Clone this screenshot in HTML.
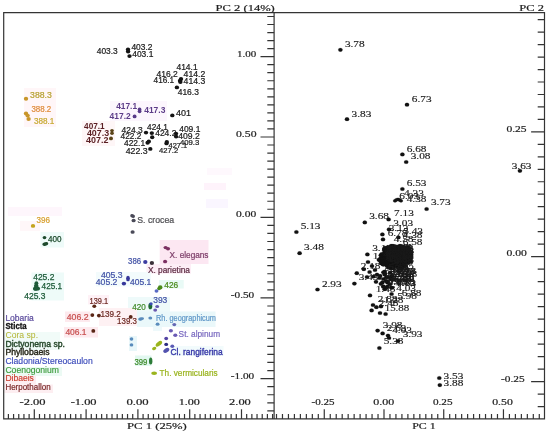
<!DOCTYPE html>
<html lang="en"><head><meta charset="utf-8"><title>PCA score and loading plots</title>
<style>html,body{margin:0;padding:0;background:#fff}svg{display:block;font-family:"Liberation Sans",sans-serif}svg text{white-space:pre}svg text.s{font-family:"Liberation Serif",serif}</style></head><body>
<svg width="550" height="432" viewBox="0 0 550 432">
<rect width="550" height="432" fill="#fff"/>
<g>
<rect x="24" y="88" width="32" height="39" fill="#fff6f8"/>
<rect x="110" y="101" width="57" height="20" fill="#fcf6fd"/>
<rect x="82" y="121" width="33" height="25" fill="#fef6f7"/>
<rect x="8" y="207" width="54" height="9" fill="#fef6fc"/>
<rect x="20" y="221" width="20" height="10" fill="#fff7f9"/>
<rect x="40.5" y="232" width="23.5" height="15.5" fill="#eefbf9"/>
<rect x="31.5" y="272.5" width="32.5" height="28" fill="#eefbf9"/>
<rect x="159.7" y="240" width="48.8" height="24" fill="#fce7f2"/>
<rect x="146.5" y="264" width="44.5" height="9.8" fill="#fdeef6"/>
<rect x="159" y="280" width="24.7" height="8.5" fill="#e9faf6"/>
<rect x="128" y="297" width="42" height="16" fill="#eefafa"/>
<rect x="96" y="272" width="55" height="14.5" fill="#f3fbfc"/>
<rect x="135" y="355.5" width="16.5" height="10.5" fill="#e2f8f0"/>
<rect x="129" y="336" width="8" height="15" fill="#e9f7fa"/>
<rect x="137" y="311.5" width="78.5" height="15.5" fill="#eaf8fa"/>
<rect x="153" y="327" width="9" height="4" fill="#eef9fb"/>
<rect x="170" y="346" width="53.5" height="10" fill="#f2fbfc"/>
<rect x="88" y="295" width="21" height="9.5" fill="#fef1f6"/>
<rect x="65" y="311.5" width="25" height="10.5" fill="#fdeaee"/>
<rect x="99" y="308" width="38" height="18" fill="#fef1f3"/>
<rect x="64" y="327" width="34" height="10.5" fill="#fdeaee"/>
<rect x="4.4" y="332" width="55.6" height="18" fill="#f1fbf8"/>
<rect x="4.4" y="367" width="57.6" height="9" fill="#ecfaf4"/>
<rect x="4.4" y="376" width="31.6" height="8.5" fill="#fdeef1"/>
<rect x="4.4" y="384.5" width="48.6" height="8.5" fill="#fdeef1"/>
<rect x="207" y="168" width="25" height="7" fill="#fef8fd"/>
<rect x="204" y="183" width="22" height="7" fill="#fef3fb"/>
<rect x="206" y="199" width="22" height="9" fill="#faf6ff"/>
</g>
<g stroke="#343434" stroke-width="1.2" fill="none" stroke-linecap="butt">
<path d="M3.7 12.1V418.9H544.5V12.6H3.2"/>
<path d="M274.1 12.6V418.9"/>
<path d="M274.1 410.86h-6.8M274.1 402.8h-6.8M274.1 394.73h-6.8M274.1 386.67h-6.8M274.1 378.6h-13.6M274.1 370.54h-6.8M274.1 362.47h-6.8M274.1 354.41h-6.8M274.1 346.34h-6.8M274.1 338.28h-6.8M274.1 330.21h-6.8M274.1 322.15h-6.8M274.1 314.08h-6.8M274.1 306.02h-6.8M274.1 297.95h-13.6M274.1 289.88h-6.8M274.1 281.82h-6.8M274.1 273.75h-6.8M274.1 265.69h-6.8M274.1 257.62h-6.8M274.1 249.56h-6.8M274.1 241.5h-6.8M274.1 233.43h-6.8M274.1 225.37h-6.8M274.1 217.3h-13.6M274.1 209.27h-6.8M274.1 201.24h-6.8M274.1 193.2h-6.8M274.1 185.17h-6.8M274.1 177.14h-6.8M274.1 169.11h-6.8M274.1 161.07h-6.8M274.1 153.04h-6.8M274.1 145.01h-6.8M274.1 136.98h-13.6M274.1 128.94h-6.8M274.1 120.91h-6.8M274.1 112.88h-6.8M274.1 104.84h-6.8M274.1 96.81h-6.8M274.1 88.78h-6.8M274.1 80.75h-6.8M274.1 72.72h-6.8M274.1 64.68h-6.8M274.1 56.65h-13.6M274.1 48.62h-6.8M274.1 40.58h-6.8M274.1 32.55h-6.8M274.1 24.52h-6.8M274.1 16.49h-6.8M8.4 418.9v-5M13.58 418.9v-5M18.76 418.9v-5M23.94 418.9v-5M29.12 418.9v-5M34.3 418.9v-9.6M39.48 418.9v-5M44.66 418.9v-5M49.84 418.9v-5M55.02 418.9v-5M60.2 418.9v-5M65.38 418.9v-5M70.56 418.9v-5M75.74 418.9v-5M80.92 418.9v-5M86.1 418.9v-9.6M91.28 418.9v-5M96.46 418.9v-5M101.64 418.9v-5M106.82 418.9v-5M112 418.9v-5M117.18 418.9v-5M122.36 418.9v-5M127.54 418.9v-5M132.72 418.9v-5M137.9 418.9v-9.6M143.08 418.9v-5M148.26 418.9v-5M153.44 418.9v-5M158.62 418.9v-5M163.8 418.9v-5M168.98 418.9v-5M174.16 418.9v-5M179.34 418.9v-5M184.52 418.9v-5M189.7 418.9v-9.6M194.88 418.9v-5M200.06 418.9v-5M205.24 418.9v-5M210.42 418.9v-5M215.6 418.9v-5M220.78 418.9v-5M225.96 418.9v-5M231.14 418.9v-5M236.32 418.9v-5M241.5 418.9v-9.6M246.68 418.9v-5M251.86 418.9v-5M257.04 418.9v-5M262.22 418.9v-5M267.4 418.9v-5M272.58 418.9v-5M544.5 406.56h-6.8M544.5 394.06h-6.8M544.5 381.56h-13.4M544.5 369.06h-6.8M544.5 356.56h-6.8M544.5 344.06h-6.8M544.5 331.56h-6.8M544.5 319.06h-6.8M544.5 306.56h-6.8M544.5 294.06h-6.8M544.5 281.56h-6.8M544.5 269.06h-6.8M544.5 256.56h-13.4M544.5 244.09h-6.8M544.5 231.62h-6.8M544.5 219.16h-6.8M544.5 206.69h-6.8M544.5 194.22h-6.8M544.5 181.75h-6.8M544.5 169.29h-6.8M544.5 156.82h-6.8M544.5 144.35h-6.8M544.5 131.88h-13.4M544.5 119.42h-6.8M544.5 106.95h-6.8M544.5 94.48h-6.8M544.5 82.01h-6.8M544.5 69.55h-6.8M544.5 57.08h-6.8M544.5 44.61h-6.8M544.5 32.15h-6.8M544.5 19.68h-6.8M276.5 418.9v-5M282.47 418.9v-5M288.44 418.9v-5M294.41 418.9v-5M300.38 418.9v-5M306.36 418.9v-5M312.33 418.9v-5M318.3 418.9v-5M324.27 418.9v-9.6M330.25 418.9v-5M336.22 418.9v-5M342.19 418.9v-5M348.16 418.9v-5M354.14 418.9v-5M360.11 418.9v-5M366.08 418.9v-5M372.06 418.9v-5M378.03 418.9v-5M384 418.9v-9.6M389.97 418.9v-5M395.94 418.9v-5M401.92 418.9v-5M407.89 418.9v-5M413.86 418.9v-5M419.84 418.9v-5M425.81 418.9v-5M431.78 418.9v-5M437.75 418.9v-5M443.73 418.9v-9.6M449.7 418.9v-5M455.67 418.9v-5M461.64 418.9v-5M467.62 418.9v-5M473.59 418.9v-5M479.56 418.9v-5M485.53 418.9v-5M491.5 418.9v-5M497.48 418.9v-5M503.45 418.9v-9.6M509.42 418.9v-5M515.39 418.9v-5M521.37 418.9v-5M527.34 418.9v-5M533.31 418.9v-5M539.28 418.9v-5"/>
</g>
<g stroke="#222" stroke-width="0.2">
<text class="s" x="215.6" y="10.6" textLength="59.2" lengthAdjust="spacingAndGlyphs" font-size="9.2" fill="#222">PC 2 (14%)</text>
<text class="s" x="127.1" y="428.5" textLength="59.7" lengthAdjust="spacingAndGlyphs" font-size="9.2" fill="#222">PC 1 (25%)</text>
<text class="s" x="519.3" y="10.7" textLength="24.6" lengthAdjust="spacingAndGlyphs" font-size="9.2" fill="#222">PC 2</text>
<text class="s" x="412.2" y="428.5" textLength="23.5" lengthAdjust="spacingAndGlyphs" font-size="9.2" fill="#222">PC 1</text>
<text class="s" x="19.5" y="405" textLength="26" lengthAdjust="spacingAndGlyphs" font-size="9.2" fill="#222">-2.00</text>
<text class="s" x="70.7" y="405" textLength="25.9" lengthAdjust="spacingAndGlyphs" font-size="9.2" fill="#222">-1.00</text>
<text class="s" x="126.5" y="405" textLength="22.2" lengthAdjust="spacingAndGlyphs" font-size="9.2" fill="#222">0.00</text>
<text class="s" x="178.7" y="405" textLength="21.2" lengthAdjust="spacingAndGlyphs" font-size="9.2" fill="#222">1.00</text>
<text class="s" x="229.1" y="405" textLength="21.7" lengthAdjust="spacingAndGlyphs" font-size="9.2" fill="#222">2.00</text>
<text class="s" x="311.5" y="405" textLength="23" lengthAdjust="spacingAndGlyphs" font-size="9.2" fill="#222">-0.25</text>
<text class="s" x="373.3" y="405" textLength="20.9" lengthAdjust="spacingAndGlyphs" font-size="9.2" fill="#222">0.00</text>
<text class="s" x="432.9" y="405" textLength="19.6" lengthAdjust="spacingAndGlyphs" font-size="9.2" fill="#222">0.25</text>
<text class="s" x="492.2" y="405" textLength="20.6" lengthAdjust="spacingAndGlyphs" font-size="9.2" fill="#222">0.50</text>
<text class="s" x="237.1" y="56.85" textLength="19.2" lengthAdjust="spacingAndGlyphs" font-size="9.2" fill="#222">1.00</text>
<text class="s" x="236" y="137.08" textLength="20.5" lengthAdjust="spacingAndGlyphs" font-size="9.2" fill="#222">0.50</text>
<text class="s" x="236.1" y="217.4" textLength="20.1" lengthAdjust="spacingAndGlyphs" font-size="9.2" fill="#222">0.00</text>
<text class="s" x="230.8" y="297.75" textLength="23.4" lengthAdjust="spacingAndGlyphs" font-size="9.2" fill="#222">-0.50</text>
<text class="s" x="230.8" y="378.8" textLength="23.4" lengthAdjust="spacingAndGlyphs" font-size="9.2" fill="#222">-1.00</text>
<text class="s" x="506.4" y="131.69" textLength="20.2" lengthAdjust="spacingAndGlyphs" font-size="9.2" fill="#222">0.25</text>
<text class="s" x="506.4" y="256.36" textLength="20.4" lengthAdjust="spacingAndGlyphs" font-size="9.2" fill="#222">0.00</text>
<text class="s" x="501.1" y="381.86" textLength="23.6" lengthAdjust="spacingAndGlyphs" font-size="9.2" fill="#222">-0.25</text>
</g>
<g>
<ellipse cx="128" cy="49.4" rx="2.18" ry="1.95" fill="#141414"/>
<ellipse cx="128.1" cy="51.6" rx="2.18" ry="1.95" fill="#141414"/>
<ellipse cx="129.5" cy="56.1" rx="2.18" ry="1.95" fill="#141414"/>
<ellipse cx="180" cy="80.8" rx="2.18" ry="1.95" fill="#141414"/>
<ellipse cx="181" cy="79" rx="2.18" ry="1.95" fill="#141414"/>
<ellipse cx="180.4" cy="82" rx="2.18" ry="1.95" fill="#141414"/>
<ellipse cx="176.9" cy="87.4" rx="2.18" ry="1.95" fill="#141414"/>
<ellipse cx="172.3" cy="115.4" rx="2.18" ry="1.95" fill="#141414"/>
<ellipse cx="146" cy="132.6" rx="2.18" ry="1.95" fill="#141414"/>
<ellipse cx="151.8" cy="133.1" rx="2.18" ry="1.95" fill="#141414"/>
<ellipse cx="152.2" cy="137.2" rx="2.18" ry="1.95" fill="#141414"/>
<ellipse cx="176" cy="133.6" rx="2.18" ry="1.95" fill="#141414"/>
<ellipse cx="176.1" cy="136.6" rx="2.18" ry="1.95" fill="#141414"/>
<ellipse cx="147.6" cy="142.8" rx="2.18" ry="1.95" fill="#141414"/>
<ellipse cx="148.8" cy="141.4" rx="2.18" ry="1.95" fill="#141414"/>
<ellipse cx="166.8" cy="142" rx="2.18" ry="1.95" fill="#141414"/>
<ellipse cx="166.5" cy="143.4" rx="2.18" ry="1.95" fill="#141414"/>
<ellipse cx="150.3" cy="148.9" rx="2.18" ry="1.95" fill="#141414"/>
<ellipse cx="139.6" cy="109.4" rx="1.84" ry="1.84" fill="#583a88"/>
<ellipse cx="139.6" cy="111.3" rx="1.84" ry="1.84" fill="#583a88"/>
<ellipse cx="134.6" cy="116.4" rx="1.95" ry="1.84" fill="#583a88"/>
<ellipse cx="112" cy="130.6" rx="1.84" ry="1.72" fill="#5a4418"/>
<ellipse cx="112" cy="133.2" rx="1.84" ry="1.72" fill="#5a4418"/>
<ellipse cx="111" cy="138.4" rx="1.95" ry="1.84" fill="#5a4418"/>
<ellipse cx="26" cy="98.7" rx="2.18" ry="1.95" fill="#c8962a"/>
<ellipse cx="26" cy="113.4" rx="2.18" ry="1.95" fill="#c8962a"/>
<ellipse cx="27.6" cy="115.6" rx="2.18" ry="1.95" fill="#c8962a"/>
<ellipse cx="28.6" cy="119" rx="2.18" ry="1.95" fill="#c8962a"/>
<ellipse cx="33" cy="225.9" rx="2.18" ry="1.95" fill="#c4a41e"/>
<ellipse cx="44.5" cy="237.6" rx="1.84" ry="1.72" fill="#1c4a2c"/>
<ellipse cx="45.3" cy="244" rx="2.99" ry="1.72" fill="#1c4a2c" transform="rotate(-15 45.3 244)"/>
<ellipse cx="36.4" cy="283.2" rx="1.95" ry="1.95" fill="#1c5a38"/>
<ellipse cx="36.2" cy="286" rx="2.3" ry="2.18" fill="#1c5a38"/>
<ellipse cx="36.6" cy="288.6" rx="3.45" ry="2.18" fill="#1c5a38"/>
<ellipse cx="35.2" cy="288.8" rx="2.07" ry="1.84" fill="#1c5a38"/>
<ellipse cx="132.6" cy="216" rx="2.42" ry="1.84" fill="#4a4a58" transform="rotate(15 132.6 216)"/>
<ellipse cx="133.6" cy="220.5" rx="2.07" ry="1.84" fill="#4a4a58"/>
<ellipse cx="132.6" cy="232" rx="2.07" ry="1.84" fill="#4a4a58"/>
<ellipse cx="123.9" cy="283.6" rx="2.18" ry="1.95" fill="#36369a"/>
<ellipse cx="128" cy="278.6" rx="1.95" ry="2.76" fill="#36369a"/>
<ellipse cx="145.3" cy="262" rx="2.18" ry="1.95" fill="#3c3ca0"/>
<ellipse cx="151.9" cy="263" rx="2.18" ry="1.95" fill="#3a3038"/>
<ellipse cx="165.6" cy="247.6" rx="2.07" ry="1.72" fill="#7c3062"/>
<ellipse cx="168" cy="248.8" rx="2.07" ry="1.72" fill="#7c3062"/>
<ellipse cx="165.1" cy="261.5" rx="2.07" ry="1.84" fill="#7c3062"/>
<ellipse cx="160.2" cy="287.4" rx="2.3" ry="2.07" fill="#4a8a1a"/>
<ellipse cx="159" cy="288.6" rx="1.84" ry="1.72" fill="#4a8a1a"/>
<ellipse cx="156.5" cy="291" rx="1.95" ry="1.72" fill="#5a6ac4"/>
<ellipse cx="150.3" cy="306.2" rx="1.95" ry="3.1" fill="#1c6a30"/>
<ellipse cx="151" cy="303.8" rx="1.72" ry="1.61" fill="#3c4cb0"/>
<ellipse cx="157.2" cy="306.5" rx="1.95" ry="1.61" fill="#6458b0"/>
<ellipse cx="155.2" cy="310.1" rx="1.95" ry="1.61" fill="#6a5ab0"/>
<ellipse cx="94.3" cy="306.2" rx="1.95" ry="1.72" fill="#5a2616"/>
<ellipse cx="92.3" cy="315.1" rx="1.95" ry="1.84" fill="#5a2616"/>
<ellipse cx="98.9" cy="315.6" rx="1.95" ry="1.84" fill="#5a2616"/>
<ellipse cx="130.7" cy="316.9" rx="1.95" ry="1.84" fill="#5a2616"/>
<ellipse cx="93.3" cy="330.9" rx="1.95" ry="1.84" fill="#5a2616"/>
<ellipse cx="141.1" cy="318.9" rx="2.99" ry="1.61" fill="#5a8cbc" transform="rotate(-12 141.1 318.9)"/>
<ellipse cx="150.3" cy="318" rx="1.95" ry="1.61" fill="#5a8cbc"/>
<ellipse cx="157.6" cy="324.2" rx="1.95" ry="1.61" fill="#5a8cbc"/>
<ellipse cx="174.3" cy="324.6" rx="1.95" ry="1.61" fill="#6468b4"/>
<ellipse cx="131.5" cy="339" rx="1.84" ry="1.72" fill="#5a8cbc"/>
<ellipse cx="131.5" cy="344.9" rx="1.84" ry="1.72" fill="#5a8cbc"/>
<ellipse cx="170.9" cy="330.8" rx="2.07" ry="1.72" fill="#6a5ab4"/>
<ellipse cx="175.3" cy="335.2" rx="2.07" ry="1.72" fill="#6a5ab4"/>
<ellipse cx="166.2" cy="338.5" rx="1.95" ry="1.72" fill="#5444a4"/>
<ellipse cx="166.2" cy="344.4" rx="1.95" ry="1.72" fill="#2c2c80"/>
<ellipse cx="172.3" cy="346.3" rx="1.95" ry="1.72" fill="#5a5ab4"/>
<ellipse cx="166.3" cy="350.4" rx="3.33" ry="2.07" fill="#5252ae" transform="rotate(-35 166.3 350.4)"/>
<ellipse cx="158.9" cy="343.8" rx="3.79" ry="1.95" fill="#9ab41e" transform="rotate(-38 158.9 343.8)"/>
<ellipse cx="154.2" cy="348.4" rx="2.18" ry="1.61" fill="#9ab41e" transform="rotate(-20 154.2 348.4)"/>
<ellipse cx="150.7" cy="361" rx="1.72" ry="3.56" fill="#2c7c38"/>
<ellipse cx="154.2" cy="373.2" rx="2.88" ry="1.72" fill="#9ab41e"/>
</g>
<g>
<text x="96.8" y="53.85" textLength="20.9" lengthAdjust="spacingAndGlyphs" font-size="8.5" fill="#1c1c1c" stroke="#1c1c1c" stroke-width="0.22">403.3</text>
<text x="131.4" y="49.75" textLength="21" lengthAdjust="spacingAndGlyphs" font-size="8.5" fill="#1c1c1c" stroke="#1c1c1c" stroke-width="0.22">403.2</text>
<text x="132.2" y="56.85" textLength="21.2" lengthAdjust="spacingAndGlyphs" font-size="8.5" fill="#1c1c1c" stroke="#1c1c1c" stroke-width="0.22">403.1</text>
<text x="176.5" y="69.85" textLength="21.1" lengthAdjust="spacingAndGlyphs" font-size="8.5" fill="#1c1c1c" stroke="#1c1c1c" stroke-width="0.22">414.1</text>
<text x="156.6" y="77.25" textLength="21.2" lengthAdjust="spacingAndGlyphs" font-size="8.5" fill="#1c1c1c" stroke="#1c1c1c" stroke-width="0.22">416.2</text>
<text x="183.6" y="77.25" textLength="21.7" lengthAdjust="spacingAndGlyphs" font-size="8.5" fill="#1c1c1c" stroke="#1c1c1c" stroke-width="0.22">414.2</text>
<text x="153.6" y="83.05" textLength="20.6" lengthAdjust="spacingAndGlyphs" font-size="8.5" fill="#1c1c1c" stroke="#1c1c1c" stroke-width="0.22">416.1</text>
<text x="183.6" y="84.05" textLength="21.7" lengthAdjust="spacingAndGlyphs" font-size="8.5" fill="#1c1c1c" stroke="#1c1c1c" stroke-width="0.22">414.3</text>
<text x="177.7" y="94.85" textLength="21.2" lengthAdjust="spacingAndGlyphs" font-size="8.5" fill="#1c1c1c" stroke="#1c1c1c" stroke-width="0.22">416.3</text>
<text x="176" y="116.45" textLength="15" lengthAdjust="spacingAndGlyphs" font-size="8.5" fill="#1c1c1c" stroke="#1c1c1c" stroke-width="0.22">401</text>
<text x="121.6" y="133.35" textLength="21.2" lengthAdjust="spacingAndGlyphs" font-size="8.5" fill="#1c1c1c" stroke="#1c1c1c" stroke-width="0.22">424.3</text>
<text x="147.1" y="129.95" textLength="20.8" lengthAdjust="spacingAndGlyphs" font-size="8.5" fill="#1c1c1c" stroke="#1c1c1c" stroke-width="0.22">424.1</text>
<text x="179.2" y="131.55" textLength="21.2" lengthAdjust="spacingAndGlyphs" font-size="8.5" fill="#1c1c1c" stroke="#1c1c1c" stroke-width="0.22">409.1</text>
<text x="120.6" y="139.05" textLength="20.8" lengthAdjust="spacingAndGlyphs" font-size="8.5" fill="#1c1c1c" stroke="#1c1c1c" stroke-width="0.22">422.2</text>
<text x="155.2" y="135.65" textLength="21.2" lengthAdjust="spacingAndGlyphs" font-size="8.5" fill="#1c1c1c" stroke="#1c1c1c" stroke-width="0.22">424.2</text>
<text x="178.2" y="138.65" textLength="21.6" lengthAdjust="spacingAndGlyphs" font-size="8.5" fill="#1c1c1c" stroke="#1c1c1c" stroke-width="0.22">409.2</text>
<text x="124" y="145.85" textLength="21.1" lengthAdjust="spacingAndGlyphs" font-size="8.5" fill="#1c1c1c" stroke="#1c1c1c" stroke-width="0.22">422.1</text>
<text x="125.7" y="153.95" textLength="22" lengthAdjust="spacingAndGlyphs" font-size="8.5" fill="#1c1c1c" stroke="#1c1c1c" stroke-width="0.22">422.3</text>
<text x="168.5" y="148" textLength="18.6" lengthAdjust="spacingAndGlyphs" font-size="7.6" fill="#1c1c1c" stroke="#1c1c1c" stroke-width="0.22">427.1</text>
<text x="179.9" y="144.7" textLength="19.4" lengthAdjust="spacingAndGlyphs" font-size="7.6" fill="#1c1c1c" stroke="#1c1c1c" stroke-width="0.22">409.3</text>
<text x="159.1" y="153.2" textLength="19.1" lengthAdjust="spacingAndGlyphs" font-size="7.6" fill="#1c1c1c" stroke="#1c1c1c" stroke-width="0.22">427.2</text>
<text x="116.2" y="109.05" textLength="20.9" lengthAdjust="spacingAndGlyphs" font-size="8.5" fill="#5c3c88" font-weight="bold">417.1</text>
<text x="144.2" y="112.85" textLength="21.2" lengthAdjust="spacingAndGlyphs" font-size="8.5" fill="#5c3c88" font-weight="bold">417.3</text>
<text x="109.6" y="119.05" textLength="21.1" lengthAdjust="spacingAndGlyphs" font-size="8.5" fill="#5c3c88" font-weight="bold">417.2</text>
<text x="84.1" y="128.65" textLength="20.6" lengthAdjust="spacingAndGlyphs" font-size="8.5" fill="#5a1e22" font-weight="bold">407.1</text>
<text x="86.9" y="135.55" textLength="22.2" lengthAdjust="spacingAndGlyphs" font-size="8.5" fill="#5a1e22" font-weight="bold">407.3</text>
<text x="86.1" y="143.25" textLength="22.4" lengthAdjust="spacingAndGlyphs" font-size="8.5" fill="#5a1e22" font-weight="bold">407.2</text>
<text x="30.1" y="97.95" textLength="21.7" lengthAdjust="spacingAndGlyphs" font-size="8.5" fill="#b8a234" stroke="#b8a234" stroke-width="0.22">388.3</text>
<text x="31.4" y="111.95" textLength="19.9" lengthAdjust="spacingAndGlyphs" font-size="8.5" fill="#e08c3c" stroke="#e08c3c" stroke-width="0.22">388.2</text>
<text x="34" y="123.65" textLength="20.4" lengthAdjust="spacingAndGlyphs" font-size="8.5" fill="#c8aa34" stroke="#c8aa34" stroke-width="0.22">388.1</text>
<text x="36.5" y="222.85" textLength="13.5" lengthAdjust="spacingAndGlyphs" font-size="8.5" fill="#d8a030" stroke="#d8a030" stroke-width="0.22">396</text>
<text x="47.9" y="241.95" textLength="13.5" lengthAdjust="spacingAndGlyphs" font-size="8.5" fill="#1c4a2c" stroke="#1c4a2c" stroke-width="0.25">400</text>
<text x="33.2" y="280.35" textLength="21.2" lengthAdjust="spacingAndGlyphs" font-size="8.5" fill="#1c5a38" stroke="#1c5a38" stroke-width="0.25">425.2</text>
<text x="41.6" y="288.75" textLength="20.6" lengthAdjust="spacingAndGlyphs" font-size="8.5" fill="#1c5a38" stroke="#1c5a38" stroke-width="0.25">425.1</text>
<text x="24.3" y="298.95" textLength="21.1" lengthAdjust="spacingAndGlyphs" font-size="8.5" fill="#1c5a38" stroke="#1c5a38" stroke-width="0.25">425.3</text>
<text x="100.9" y="277.75" textLength="21.6" lengthAdjust="spacingAndGlyphs" font-size="8.5" fill="#4252a6" stroke="#4252a6" stroke-width="0.22">405.3</text>
<text x="95.8" y="284.65" textLength="21.6" lengthAdjust="spacingAndGlyphs" font-size="8.5" fill="#4252a6" stroke="#4252a6" stroke-width="0.22">405.2</text>
<text x="130.1" y="285.15" textLength="21.2" lengthAdjust="spacingAndGlyphs" font-size="8.5" fill="#4252a6" stroke="#4252a6" stroke-width="0.22">405.1</text>
<text x="128.1" y="263.75" textLength="13" lengthAdjust="spacingAndGlyphs" font-size="8.5" fill="#4252a6" stroke="#4252a6" stroke-width="0.22">386</text>
<text x="153.2" y="303.05" textLength="14.1" lengthAdjust="spacingAndGlyphs" font-size="8.5" fill="#4252a6" stroke="#4252a6" stroke-width="0.22">393</text>
<text x="137.3" y="223.05" textLength="36.9" lengthAdjust="spacingAndGlyphs" font-size="8.5" fill="#505054" stroke="#505054" stroke-width="0.22">S. crocea</text>
<text x="169.6" y="258.15" textLength="38.9" lengthAdjust="spacingAndGlyphs" font-size="8.5" fill="#7c3c68" stroke="#7c3c68" stroke-width="0.22">X. elegans</text>
<text x="147.9" y="273.25" textLength="42.1" lengthAdjust="spacingAndGlyphs" font-size="8.5" fill="#5e2c44" stroke="#5e2c44" stroke-width="0.22">X. parietina</text>
<text x="164.3" y="288.25" textLength="13.9" lengthAdjust="spacingAndGlyphs" font-size="8.5" fill="#4a8a1a" stroke="#4a8a1a" stroke-width="0.22">426</text>
<text x="132.3" y="309.65" textLength="13.5" lengthAdjust="spacingAndGlyphs" font-size="8.5" fill="#3f8a2a" stroke="#3f8a2a" stroke-width="0.22">420</text>
<text x="134.4" y="364.65" textLength="13" lengthAdjust="spacingAndGlyphs" font-size="8.5" fill="#3f8a2a" stroke="#3f8a2a" stroke-width="0.22">399</text>
<text x="89.6" y="303.65" textLength="18.6" lengthAdjust="spacingAndGlyphs" font-size="8.5" fill="#6e2a24" stroke="#6e2a24" stroke-width="0.22">139.1</text>
<text x="100.5" y="316.85" textLength="20.4" lengthAdjust="spacingAndGlyphs" font-size="8.5" fill="#6e2a24" stroke="#6e2a24" stroke-width="0.22">139.2</text>
<text x="117.1" y="324.35" textLength="19.8" lengthAdjust="spacingAndGlyphs" font-size="8.5" fill="#6e2a24" stroke="#6e2a24" stroke-width="0.22">139.3</text>
<text x="66.7" y="319.95" textLength="21.9" lengthAdjust="spacingAndGlyphs" font-size="8.5" fill="#c85050" stroke="#c85050" stroke-width="0.22">406.2</text>
<text x="65.4" y="335.25" textLength="21.2" lengthAdjust="spacingAndGlyphs" font-size="8.5" fill="#c85050" stroke="#c85050" stroke-width="0.22">406.1</text>
<text x="156" y="321.25" textLength="60" lengthAdjust="spacingAndGlyphs" font-size="8.5" fill="#6098c8" stroke="#6098c8" stroke-width="0.22">Rh. geographicum</text>
<text x="178.6" y="336.75" textLength="41.5" lengthAdjust="spacingAndGlyphs" font-size="8.5" fill="#7a6ac0" stroke="#7a6ac0" stroke-width="0.22">St. alpinum</text>
<text x="170.5" y="354.85" textLength="52.2" lengthAdjust="spacingAndGlyphs" font-size="8.5" fill="#3838a8" stroke="#3838a8" stroke-width="0.35">Cl. rangiferina</text>
<text x="159.6" y="376.45" textLength="58" lengthAdjust="spacingAndGlyphs" font-size="8.5" fill="#9ab41e" stroke="#9ab41e" stroke-width="0.22">Th. vermicularis</text>
</g>
<g font-size="8.6">
<text x="5.4" y="321" textLength="28.4" lengthAdjust="spacingAndGlyphs" fill="#5a4a9c" stroke="#5a4a9c" stroke-width="0.2">Lobaria</text>
<text x="5.4" y="329.4" textLength="21.3" lengthAdjust="spacingAndGlyphs" fill="#141414" font-weight="bold" stroke="#141414" stroke-width="0.3">Sticta</text>
<text x="5.4" y="338.2" textLength="32.7" lengthAdjust="spacingAndGlyphs" fill="#b4b432">Cora sp.</text>
<text x="5.4" y="346.8" textLength="59.6" lengthAdjust="spacingAndGlyphs" fill="#26482a" stroke="#26482a" stroke-width="0.4">Dictyonema sp.</text>
<text x="5.4" y="355.4" textLength="44.2" lengthAdjust="spacingAndGlyphs" fill="#26261a" stroke="#26261a" stroke-width="0.4">Phyllobaeis</text>
<text x="5.4" y="364" textLength="87.3" lengthAdjust="spacingAndGlyphs" fill="#3a4aba" stroke="#3a4aba" stroke-width="0.15">Cladonia/Stereocaulon</text>
<text x="5.4" y="372.6" textLength="53.6" lengthAdjust="spacingAndGlyphs" fill="#3a9a3a" stroke="#3a9a3a" stroke-width="0.15">Coenogonium</text>
<text x="5.4" y="381.2" textLength="28.4" lengthAdjust="spacingAndGlyphs" fill="#c83c2c" stroke="#c83c2c" stroke-width="0.15">Dibaeis</text>
<text x="5.4" y="389.8" textLength="45.2" lengthAdjust="spacingAndGlyphs" fill="#7a2828" stroke="#7a2828" stroke-width="0.2">Herpothallon</text>
</g>
<g class="r" stroke="#1a1a1a" stroke-width="0.15">
<ellipse cx="340.4" cy="49.8" rx="2.18" ry="1.84" fill="#111"/>
<text class="s" x="344.9" y="47" textLength="19.8" lengthAdjust="spacingAndGlyphs" font-size="9.2" fill="#1a1a1a">3.78</text>
<ellipse cx="347" cy="119.2" rx="2.18" ry="1.84" fill="#111"/>
<text class="s" x="351.5" y="116.7" textLength="19.8" lengthAdjust="spacingAndGlyphs" font-size="9.2" fill="#1a1a1a">3.83</text>
<ellipse cx="407" cy="104.7" rx="2.18" ry="1.84" fill="#111"/>
<text class="s" x="411.8" y="102" textLength="19.8" lengthAdjust="spacingAndGlyphs" font-size="9.2" fill="#1a1a1a">6.73</text>
<ellipse cx="402.4" cy="154.4" rx="2.18" ry="1.84" fill="#111"/>
<text class="s" x="406.7" y="151.6" textLength="19.8" lengthAdjust="spacingAndGlyphs" font-size="9.2" fill="#1a1a1a">6.68</text>
<ellipse cx="406.2" cy="162" rx="2.18" ry="1.84" fill="#111"/>
<text class="s" x="410.7" y="159.4" textLength="19.8" lengthAdjust="spacingAndGlyphs" font-size="9.2" fill="#1a1a1a">3.08</text>
<ellipse cx="519.9" cy="170.8" rx="2.18" ry="1.84" fill="#111"/>
<text class="s" x="511.7" y="169.2" textLength="19.8" lengthAdjust="spacingAndGlyphs" font-size="9.2" fill="#1a1a1a">3.63</text>
<ellipse cx="402.4" cy="189" rx="2.18" ry="1.84" fill="#111"/>
<text class="s" x="406.7" y="186.4" textLength="19.8" lengthAdjust="spacingAndGlyphs" font-size="9.2" fill="#1a1a1a">6.53</text>
<ellipse cx="426.6" cy="209" rx="2.18" ry="1.84" fill="#111"/>
<text class="s" x="430.9" y="205.4" textLength="19.8" lengthAdjust="spacingAndGlyphs" font-size="9.2" fill="#1a1a1a">3.73</text>
<ellipse cx="364.8" cy="222.4" rx="2.18" ry="1.84" fill="#111"/>
<text class="s" x="369.2" y="219.2" textLength="19.8" lengthAdjust="spacingAndGlyphs" font-size="9.2" fill="#1a1a1a">3.68</text>
<ellipse cx="388.6" cy="219.4" rx="2.18" ry="1.84" fill="#111"/>
<text class="s" x="394.1" y="216.4" textLength="19.8" lengthAdjust="spacingAndGlyphs" font-size="9.2" fill="#1a1a1a">7.13</text>
<ellipse cx="296.4" cy="232" rx="2.18" ry="1.84" fill="#111"/>
<text class="s" x="300.7" y="229.4" textLength="19.8" lengthAdjust="spacingAndGlyphs" font-size="9.2" fill="#1a1a1a">5.13</text>
<ellipse cx="299.6" cy="253.2" rx="2.18" ry="1.84" fill="#111"/>
<text class="s" x="304.1" y="250.4" textLength="19.8" lengthAdjust="spacingAndGlyphs" font-size="9.2" fill="#1a1a1a">3.48</text>
<ellipse cx="317.5" cy="289.5" rx="2.18" ry="1.84" fill="#111"/>
<text class="s" x="321.9" y="287" textLength="19.8" lengthAdjust="spacingAndGlyphs" font-size="9.2" fill="#1a1a1a">2.93</text>
<ellipse cx="439.3" cy="378" rx="2.18" ry="1.84" fill="#111"/>
<text class="s" x="443.5" y="379" textLength="19.8" lengthAdjust="spacingAndGlyphs" font-size="9.2" fill="#1a1a1a">3.53</text>
<ellipse cx="439.8" cy="385.1" rx="2.18" ry="1.84" fill="#111"/>
<text class="s" x="443.5" y="386" textLength="19.8" lengthAdjust="spacingAndGlyphs" font-size="9.2" fill="#1a1a1a">3.88</text>
<ellipse cx="395" cy="200.8" rx="1.95" ry="1.61" fill="#111"/>
<ellipse cx="396.4" cy="199.8" rx="1.95" ry="1.61" fill="#111"/>
<ellipse cx="398" cy="199.4" rx="1.95" ry="1.61" fill="#111"/>
<ellipse cx="399.6" cy="199.9" rx="1.95" ry="1.61" fill="#111"/>
<ellipse cx="401" cy="200.8" rx="1.95" ry="1.61" fill="#111"/>
<text class="s" x="404.1" y="196.2" textLength="19.8" lengthAdjust="spacingAndGlyphs" font-size="9.2" fill="#1a1a1a">4.33</text>
<text class="s" x="399.3" y="198.6" textLength="19.8" lengthAdjust="spacingAndGlyphs" font-size="9.2" fill="#1a1a1a">6.03</text>
<text class="s" x="406.7" y="201.8" textLength="19.8" lengthAdjust="spacingAndGlyphs" font-size="9.2" fill="#1a1a1a">4.38</text>
<ellipse cx="389" cy="229.4" rx="2.18" ry="1.84" fill="#111"/>
<text class="s" x="393.3" y="225.6" textLength="19.8" lengthAdjust="spacingAndGlyphs" font-size="9.2" fill="#1a1a1a">3.03</text>
<ellipse cx="382.4" cy="234.4" rx="2.18" ry="1.84" fill="#111"/>
<text class="s" x="388.7" y="231" textLength="19.8" lengthAdjust="spacingAndGlyphs" font-size="9.2" fill="#1a1a1a">3.13</text>
<ellipse cx="398.4" cy="237.4" rx="2.18" ry="1.84" fill="#111"/>
<text class="s" x="403.2" y="234" textLength="19.8" lengthAdjust="spacingAndGlyphs" font-size="9.2" fill="#1a1a1a">5.43</text>
<ellipse cx="383" cy="239.4" rx="2.18" ry="1.84" fill="#111"/>
<text class="s" x="387.7" y="236.2" textLength="19.8" lengthAdjust="spacingAndGlyphs" font-size="9.2" fill="#1a1a1a">6.78</text>
<text class="s" x="402.7" y="238.4" textLength="19.8" lengthAdjust="spacingAndGlyphs" font-size="9.2" fill="#1a1a1a">4.38</text>
<text class="s" x="402.7" y="244.6" textLength="19.8" lengthAdjust="spacingAndGlyphs" font-size="9.2" fill="#1a1a1a">6.58</text>
<text class="s" x="393.7" y="242" textLength="19.8" lengthAdjust="spacingAndGlyphs" font-size="9.2" fill="#1a1a1a">4.58</text>
<text class="s" x="372.2" y="251.2" textLength="19.8" lengthAdjust="spacingAndGlyphs" font-size="9.2" fill="#1a1a1a">3.18</text>
<text class="s" x="372.7" y="258.5" textLength="19.8" lengthAdjust="spacingAndGlyphs" font-size="9.2" fill="#1a1a1a">1.58</text>
<text class="s" x="360.7" y="269.4" textLength="19.8" lengthAdjust="spacingAndGlyphs" font-size="9.2" fill="#1a1a1a">2.18</text>
<text class="s" x="358.7" y="280.2" textLength="19.8" lengthAdjust="spacingAndGlyphs" font-size="9.2" fill="#1a1a1a">3.43</text>
<ellipse cx="367.4" cy="254.4" rx="2.18" ry="1.84" fill="#111"/>
<ellipse cx="368" cy="262" rx="2.18" ry="1.84" fill="#111"/>
<ellipse cx="363.8" cy="269.2" rx="2.18" ry="1.84" fill="#111"/>
<ellipse cx="356.8" cy="273.2" rx="2.18" ry="1.84" fill="#111"/>
<ellipse cx="369.6" cy="272" rx="2.18" ry="1.84" fill="#111"/>
<ellipse cx="354.4" cy="283.6" rx="2.18" ry="1.84" fill="#111"/>
<ellipse cx="367" cy="277" rx="2.18" ry="1.84" fill="#111"/>
<ellipse cx="376" cy="281.8" rx="2.18" ry="1.84" fill="#111"/>
<ellipse cx="382.4" cy="282.4" rx="2.18" ry="1.84" fill="#111"/>
<ellipse cx="370" cy="295.4" rx="2.18" ry="1.84" fill="#111"/>
<ellipse cx="373" cy="305" rx="2.18" ry="1.84" fill="#111"/>
<ellipse cx="376.4" cy="307.2" rx="2.18" ry="1.84" fill="#111"/>
<ellipse cx="381" cy="306.4" rx="2.18" ry="1.84" fill="#111"/>
<ellipse cx="371.6" cy="310.4" rx="2.18" ry="1.84" fill="#111"/>
<ellipse cx="380" cy="313" rx="2.18" ry="1.84" fill="#111"/>
<ellipse cx="385.6" cy="314" rx="2.18" ry="1.84" fill="#111"/>
<ellipse cx="391.6" cy="294" rx="2.18" ry="1.84" fill="#111"/>
<ellipse cx="386" cy="288" rx="2.18" ry="1.84" fill="#111"/>
<ellipse cx="387.5" cy="286.5" rx="2.18" ry="1.84" fill="#111"/>
<ellipse cx="384.6" cy="289.2" rx="2.18" ry="1.84" fill="#111"/>
<ellipse cx="372" cy="266" rx="2.18" ry="1.84" fill="#111"/>
<ellipse cx="375" cy="270" rx="2.18" ry="1.84" fill="#111"/>
<ellipse cx="377" cy="274.5" rx="2.18" ry="1.84" fill="#111"/>
<ellipse cx="373.5" cy="276.5" rx="2.18" ry="1.84" fill="#111"/>
<ellipse cx="379.5" cy="278" rx="2.18" ry="1.84" fill="#111"/>
<text class="s" x="396.2" y="291.2" textLength="19.8" lengthAdjust="spacingAndGlyphs" font-size="9.2" fill="#1a1a1a">4.03</text>
<text class="s" x="375.7" y="291.5" textLength="19.8" lengthAdjust="spacingAndGlyphs" font-size="9.2" fill="#1a1a1a">1.48</text>
<text class="s" x="401.7" y="296.2" textLength="19.8" lengthAdjust="spacingAndGlyphs" font-size="9.2" fill="#1a1a1a">6.88</text>
<text class="s" x="397.2" y="298.6" textLength="19.8" lengthAdjust="spacingAndGlyphs" font-size="9.2" fill="#1a1a1a">5.98</text>
<text class="s" x="377.7" y="302.2" textLength="19.8" lengthAdjust="spacingAndGlyphs" font-size="9.2" fill="#1a1a1a">2.88</text>
<text class="s" x="383.7" y="303.4" textLength="19.8" lengthAdjust="spacingAndGlyphs" font-size="9.2" fill="#1a1a1a">1.28</text>
<text class="s" x="378.7" y="305.8" textLength="19.8" lengthAdjust="spacingAndGlyphs" font-size="9.2" fill="#1a1a1a">2.48</text>
<text class="s" x="384.7" y="311" textLength="24.6" lengthAdjust="spacingAndGlyphs" font-size="9.2" fill="#1a1a1a">15.88</text>
<ellipse cx="377.6" cy="330.6" rx="2.18" ry="1.84" fill="#111"/>
<ellipse cx="382.6" cy="333.4" rx="2.18" ry="1.84" fill="#111"/>
<ellipse cx="388" cy="335.6" rx="2.18" ry="1.84" fill="#111"/>
<ellipse cx="389" cy="338" rx="2.18" ry="1.84" fill="#111"/>
<ellipse cx="398" cy="341" rx="2.18" ry="1.84" fill="#111"/>
<ellipse cx="379.4" cy="348" rx="2.18" ry="1.84" fill="#111"/>
<text class="s" x="382.7" y="327.6" textLength="19.8" lengthAdjust="spacingAndGlyphs" font-size="9.2" fill="#1a1a1a">3.98</text>
<text class="s" x="386.7" y="331.2" textLength="19.8" lengthAdjust="spacingAndGlyphs" font-size="9.2" fill="#1a1a1a">2.63</text>
<text class="s" x="392.2" y="332.6" textLength="19.8" lengthAdjust="spacingAndGlyphs" font-size="9.2" fill="#1a1a1a">4.03</text>
<text class="s" x="402.7" y="337" textLength="19.8" lengthAdjust="spacingAndGlyphs" font-size="9.2" fill="#1a1a1a">3.93</text>
<text class="s" x="383.7" y="344.4" textLength="19.8" lengthAdjust="spacingAndGlyphs" font-size="9.2" fill="#1a1a1a">5.38</text>
<ellipse cx="394.09" cy="258.67" rx="2.18" ry="1.84" fill="#111"/>
<ellipse cx="411.07" cy="256.04" rx="2.18" ry="1.84" fill="#111"/>
<ellipse cx="396.08" cy="259.45" rx="2.18" ry="1.84" fill="#111"/>
<ellipse cx="384.45" cy="257.33" rx="2.18" ry="1.84" fill="#111"/>
<ellipse cx="400.48" cy="265.2" rx="2.18" ry="1.84" fill="#111"/>
<ellipse cx="401.34" cy="260.24" rx="2.18" ry="1.84" fill="#111"/>
<ellipse cx="384.65" cy="249.77" rx="2.18" ry="1.84" fill="#111"/>
<ellipse cx="393.66" cy="266.59" rx="2.18" ry="1.84" fill="#111"/>
<ellipse cx="396.49" cy="260.93" rx="2.18" ry="1.84" fill="#111"/>
<ellipse cx="395.79" cy="261.55" rx="2.18" ry="1.84" fill="#111"/>
<ellipse cx="394.26" cy="250.79" rx="2.18" ry="1.84" fill="#111"/>
<ellipse cx="408.05" cy="262.82" rx="2.18" ry="1.84" fill="#111"/>
<ellipse cx="389.15" cy="249.43" rx="2.18" ry="1.84" fill="#111"/>
<ellipse cx="405.39" cy="254.21" rx="2.18" ry="1.84" fill="#111"/>
<ellipse cx="408.28" cy="253.82" rx="2.18" ry="1.84" fill="#111"/>
<ellipse cx="410.57" cy="256.16" rx="2.18" ry="1.84" fill="#111"/>
<ellipse cx="380.43" cy="260.62" rx="2.18" ry="1.84" fill="#111"/>
<ellipse cx="405.83" cy="250.55" rx="2.18" ry="1.84" fill="#111"/>
<ellipse cx="406.49" cy="247.97" rx="2.18" ry="1.84" fill="#111"/>
<ellipse cx="397.93" cy="255.53" rx="2.18" ry="1.84" fill="#111"/>
<ellipse cx="384.66" cy="263.49" rx="2.18" ry="1.84" fill="#111"/>
<ellipse cx="382.51" cy="261.02" rx="2.18" ry="1.84" fill="#111"/>
<ellipse cx="381.99" cy="254.78" rx="2.18" ry="1.84" fill="#111"/>
<ellipse cx="385.46" cy="250.55" rx="2.18" ry="1.84" fill="#111"/>
<ellipse cx="388.75" cy="267.78" rx="2.18" ry="1.84" fill="#111"/>
<ellipse cx="385.39" cy="254.04" rx="2.18" ry="1.84" fill="#111"/>
<ellipse cx="408.56" cy="260.97" rx="2.18" ry="1.84" fill="#111"/>
<ellipse cx="385.48" cy="250.23" rx="2.18" ry="1.84" fill="#111"/>
<ellipse cx="405.62" cy="252.21" rx="2.18" ry="1.84" fill="#111"/>
<ellipse cx="381.04" cy="259.32" rx="2.18" ry="1.84" fill="#111"/>
<ellipse cx="386.55" cy="259.84" rx="2.18" ry="1.84" fill="#111"/>
<ellipse cx="391.18" cy="255.69" rx="2.18" ry="1.84" fill="#111"/>
<ellipse cx="398.48" cy="267.26" rx="2.18" ry="1.84" fill="#111"/>
<ellipse cx="386.78" cy="248.31" rx="2.18" ry="1.84" fill="#111"/>
<ellipse cx="409.56" cy="259.9" rx="2.18" ry="1.84" fill="#111"/>
<ellipse cx="392.97" cy="245.91" rx="2.18" ry="1.84" fill="#111"/>
<ellipse cx="386.38" cy="262.73" rx="2.18" ry="1.84" fill="#111"/>
<ellipse cx="387.05" cy="266.06" rx="2.18" ry="1.84" fill="#111"/>
<ellipse cx="399.27" cy="251.22" rx="2.18" ry="1.84" fill="#111"/>
<ellipse cx="384.12" cy="263.17" rx="2.18" ry="1.84" fill="#111"/>
<ellipse cx="397.94" cy="266.87" rx="2.18" ry="1.84" fill="#111"/>
<ellipse cx="399.91" cy="250.85" rx="2.18" ry="1.84" fill="#111"/>
<ellipse cx="384.15" cy="253.33" rx="2.18" ry="1.84" fill="#111"/>
<ellipse cx="398.4" cy="246.68" rx="2.18" ry="1.84" fill="#111"/>
<ellipse cx="390.84" cy="267.95" rx="2.18" ry="1.84" fill="#111"/>
<ellipse cx="402.68" cy="259.36" rx="2.18" ry="1.84" fill="#111"/>
<ellipse cx="395.16" cy="263.45" rx="2.18" ry="1.84" fill="#111"/>
<ellipse cx="380.51" cy="258.29" rx="2.18" ry="1.84" fill="#111"/>
<ellipse cx="404.34" cy="262.7" rx="2.18" ry="1.84" fill="#111"/>
<ellipse cx="390.47" cy="262.18" rx="2.18" ry="1.84" fill="#111"/>
<ellipse cx="392.82" cy="265.13" rx="2.18" ry="1.84" fill="#111"/>
<ellipse cx="408.89" cy="259.04" rx="2.18" ry="1.84" fill="#111"/>
<ellipse cx="400.3" cy="253.71" rx="2.18" ry="1.84" fill="#111"/>
<ellipse cx="398.78" cy="260.05" rx="2.18" ry="1.84" fill="#111"/>
<ellipse cx="380.69" cy="260.9" rx="2.18" ry="1.84" fill="#111"/>
<ellipse cx="404.02" cy="253.88" rx="2.18" ry="1.84" fill="#111"/>
<ellipse cx="404.26" cy="259.27" rx="2.18" ry="1.84" fill="#111"/>
<ellipse cx="393.66" cy="266.47" rx="2.18" ry="1.84" fill="#111"/>
<ellipse cx="378.87" cy="259.84" rx="2.18" ry="1.84" fill="#111"/>
<ellipse cx="395.11" cy="249.45" rx="2.18" ry="1.84" fill="#111"/>
<ellipse cx="402.94" cy="256.92" rx="2.18" ry="1.84" fill="#111"/>
<ellipse cx="388.64" cy="261.99" rx="2.18" ry="1.84" fill="#111"/>
<ellipse cx="385.09" cy="247.75" rx="2.18" ry="1.84" fill="#111"/>
<ellipse cx="410.41" cy="261.48" rx="2.18" ry="1.84" fill="#111"/>
<ellipse cx="393.71" cy="267.97" rx="2.18" ry="1.84" fill="#111"/>
<ellipse cx="389.57" cy="261.65" rx="2.18" ry="1.84" fill="#111"/>
<ellipse cx="384.95" cy="255.07" rx="2.18" ry="1.84" fill="#111"/>
<ellipse cx="409.49" cy="253.76" rx="2.18" ry="1.84" fill="#111"/>
<ellipse cx="398.79" cy="251.86" rx="2.18" ry="1.84" fill="#111"/>
<ellipse cx="382.7" cy="256.9" rx="2.18" ry="1.84" fill="#111"/>
<ellipse cx="387.76" cy="247.74" rx="2.18" ry="1.84" fill="#111"/>
<ellipse cx="394.02" cy="250.7" rx="2.18" ry="1.84" fill="#111"/>
<ellipse cx="385.51" cy="254.59" rx="2.18" ry="1.84" fill="#111"/>
<ellipse cx="400.33" cy="256.83" rx="2.18" ry="1.84" fill="#111"/>
<ellipse cx="389.15" cy="266.5" rx="2.18" ry="1.84" fill="#111"/>
<ellipse cx="403.31" cy="258.98" rx="2.18" ry="1.84" fill="#111"/>
<ellipse cx="388.93" cy="265.16" rx="2.18" ry="1.84" fill="#111"/>
<ellipse cx="407.67" cy="249.65" rx="2.18" ry="1.84" fill="#111"/>
<ellipse cx="400.45" cy="255.5" rx="2.18" ry="1.84" fill="#111"/>
<ellipse cx="400.48" cy="261.34" rx="2.18" ry="1.84" fill="#111"/>
<ellipse cx="402.44" cy="248.58" rx="2.18" ry="1.84" fill="#111"/>
<ellipse cx="394.91" cy="248" rx="2.18" ry="1.84" fill="#111"/>
<ellipse cx="403.51" cy="248.01" rx="2.18" ry="1.84" fill="#111"/>
<ellipse cx="387.6" cy="252.68" rx="2.18" ry="1.84" fill="#111"/>
<ellipse cx="402.9" cy="257.57" rx="2.18" ry="1.84" fill="#111"/>
<ellipse cx="399.92" cy="264.17" rx="2.18" ry="1.84" fill="#111"/>
<ellipse cx="391.97" cy="265.17" rx="2.18" ry="1.84" fill="#111"/>
<ellipse cx="382.48" cy="255.7" rx="2.18" ry="1.84" fill="#111"/>
<ellipse cx="400.32" cy="268.48" rx="2.18" ry="1.84" fill="#111"/>
<ellipse cx="391.36" cy="258.93" rx="2.18" ry="1.84" fill="#111"/>
<ellipse cx="401.25" cy="248.74" rx="2.18" ry="1.84" fill="#111"/>
<ellipse cx="403.79" cy="265.91" rx="2.18" ry="1.84" fill="#111"/>
<ellipse cx="400.9" cy="263.09" rx="2.18" ry="1.84" fill="#111"/>
<ellipse cx="397.13" cy="265.14" rx="2.18" ry="1.84" fill="#111"/>
<ellipse cx="408.61" cy="252.76" rx="2.18" ry="1.84" fill="#111"/>
<ellipse cx="380.78" cy="255.35" rx="2.18" ry="1.84" fill="#111"/>
<ellipse cx="397.61" cy="264.51" rx="2.18" ry="1.84" fill="#111"/>
<ellipse cx="406.59" cy="247.84" rx="2.18" ry="1.84" fill="#111"/>
<ellipse cx="389.86" cy="265.06" rx="2.18" ry="1.84" fill="#111"/>
<ellipse cx="396.39" cy="263.26" rx="2.18" ry="1.84" fill="#111"/>
<ellipse cx="408.04" cy="262.3" rx="2.18" ry="1.84" fill="#111"/>
<ellipse cx="385.77" cy="257.75" rx="2.18" ry="1.84" fill="#111"/>
<ellipse cx="388.25" cy="263.41" rx="2.18" ry="1.84" fill="#111"/>
<ellipse cx="400.8" cy="257.64" rx="2.18" ry="1.84" fill="#111"/>
<ellipse cx="408.17" cy="258.68" rx="2.18" ry="1.84" fill="#111"/>
<ellipse cx="389.02" cy="253.67" rx="2.18" ry="1.84" fill="#111"/>
<ellipse cx="398.43" cy="248.63" rx="2.18" ry="1.84" fill="#111"/>
<ellipse cx="397.09" cy="257.09" rx="2.18" ry="1.84" fill="#111"/>
<ellipse cx="392.22" cy="265.43" rx="2.18" ry="1.84" fill="#111"/>
<ellipse cx="398.06" cy="256.75" rx="2.18" ry="1.84" fill="#111"/>
<ellipse cx="397.19" cy="254.59" rx="2.18" ry="1.84" fill="#111"/>
<ellipse cx="387.49" cy="256.25" rx="2.18" ry="1.84" fill="#111"/>
<ellipse cx="382.37" cy="255.14" rx="2.18" ry="1.84" fill="#111"/>
<ellipse cx="394.96" cy="251.88" rx="2.18" ry="1.84" fill="#111"/>
<ellipse cx="384.69" cy="260.3" rx="2.18" ry="1.84" fill="#111"/>
<ellipse cx="384.79" cy="249.36" rx="2.18" ry="1.84" fill="#111"/>
<ellipse cx="402.53" cy="252.02" rx="2.18" ry="1.84" fill="#111"/>
<ellipse cx="390.59" cy="260.35" rx="2.18" ry="1.84" fill="#111"/>
<ellipse cx="381.58" cy="263.47" rx="2.18" ry="1.84" fill="#111"/>
<ellipse cx="382.22" cy="257.29" rx="2.18" ry="1.84" fill="#111"/>
<ellipse cx="386.82" cy="248.54" rx="2.18" ry="1.84" fill="#111"/>
<ellipse cx="396.89" cy="255.23" rx="2.18" ry="1.84" fill="#111"/>
<ellipse cx="391.33" cy="254.58" rx="2.18" ry="1.84" fill="#111"/>
<ellipse cx="396.86" cy="247.47" rx="2.18" ry="1.84" fill="#111"/>
<ellipse cx="385.15" cy="260.68" rx="2.18" ry="1.84" fill="#111"/>
<ellipse cx="400.78" cy="257.83" rx="2.18" ry="1.84" fill="#111"/>
<ellipse cx="408.45" cy="260.13" rx="2.18" ry="1.84" fill="#111"/>
<ellipse cx="408.64" cy="249.51" rx="2.18" ry="1.84" fill="#111"/>
<ellipse cx="404.47" cy="265.69" rx="2.18" ry="1.84" fill="#111"/>
<ellipse cx="410.3" cy="251.84" rx="2.18" ry="1.84" fill="#111"/>
<ellipse cx="386.42" cy="263.34" rx="2.18" ry="1.84" fill="#111"/>
<ellipse cx="407.76" cy="254.81" rx="2.18" ry="1.84" fill="#111"/>
<ellipse cx="392.3" cy="262.19" rx="2.18" ry="1.84" fill="#111"/>
<ellipse cx="396" cy="264.23" rx="2.18" ry="1.84" fill="#111"/>
<ellipse cx="395.9" cy="262.2" rx="2.18" ry="1.84" fill="#111"/>
<ellipse cx="397.66" cy="257.42" rx="2.18" ry="1.84" fill="#111"/>
<ellipse cx="398.27" cy="247.1" rx="2.18" ry="1.84" fill="#111"/>
<ellipse cx="384.44" cy="248.71" rx="2.18" ry="1.84" fill="#111"/>
<ellipse cx="394.43" cy="264.41" rx="2.18" ry="1.84" fill="#111"/>
<ellipse cx="389.57" cy="256.07" rx="2.18" ry="1.84" fill="#111"/>
<ellipse cx="396.35" cy="255.04" rx="2.18" ry="1.84" fill="#111"/>
<ellipse cx="403.04" cy="266.64" rx="2.18" ry="1.84" fill="#111"/>
<ellipse cx="384.33" cy="255.71" rx="2.18" ry="1.84" fill="#111"/>
<ellipse cx="404.42" cy="254.35" rx="2.18" ry="1.84" fill="#111"/>
<ellipse cx="403.17" cy="267.1" rx="2.18" ry="1.84" fill="#111"/>
<ellipse cx="400.46" cy="254.33" rx="2.18" ry="1.84" fill="#111"/>
<ellipse cx="399.39" cy="257.12" rx="2.18" ry="1.84" fill="#111"/>
<ellipse cx="404.6" cy="264.78" rx="2.18" ry="1.84" fill="#111"/>
<ellipse cx="407.13" cy="254.36" rx="2.18" ry="1.84" fill="#111"/>
<ellipse cx="402.81" cy="264.48" rx="2.18" ry="1.84" fill="#111"/>
<ellipse cx="405.35" cy="254.36" rx="2.18" ry="1.84" fill="#111"/>
<ellipse cx="390.1" cy="256.13" rx="2.18" ry="1.84" fill="#111"/>
<ellipse cx="400.79" cy="260.47" rx="2.18" ry="1.84" fill="#111"/>
<ellipse cx="401.78" cy="252.46" rx="2.18" ry="1.84" fill="#111"/>
<ellipse cx="401.55" cy="258.95" rx="2.18" ry="1.84" fill="#111"/>
<ellipse cx="396.99" cy="253.91" rx="2.18" ry="1.84" fill="#111"/>
<ellipse cx="403.05" cy="264.33" rx="2.18" ry="1.84" fill="#111"/>
<ellipse cx="399.95" cy="263.69" rx="2.18" ry="1.84" fill="#111"/>
<ellipse cx="387.04" cy="254.24" rx="2.18" ry="1.84" fill="#111"/>
<ellipse cx="391.32" cy="245.76" rx="2.18" ry="1.84" fill="#111"/>
<ellipse cx="397.6" cy="257.22" rx="2.18" ry="1.84" fill="#111"/>
<ellipse cx="399.31" cy="264.26" rx="2.18" ry="1.84" fill="#111"/>
<ellipse cx="383.56" cy="256.21" rx="2.18" ry="1.84" fill="#111"/>
<ellipse cx="383.89" cy="256.87" rx="2.18" ry="1.84" fill="#111"/>
<ellipse cx="396.76" cy="259.74" rx="2.18" ry="1.84" fill="#111"/>
<ellipse cx="390.96" cy="251" rx="2.18" ry="1.84" fill="#111"/>
<ellipse cx="401.38" cy="258.7" rx="2.18" ry="1.84" fill="#111"/>
<ellipse cx="388.01" cy="263.06" rx="2.18" ry="1.84" fill="#111"/>
<ellipse cx="383.44" cy="264.13" rx="2.18" ry="1.84" fill="#111"/>
<ellipse cx="391.84" cy="268.13" rx="2.18" ry="1.84" fill="#111"/>
<ellipse cx="393.26" cy="256.37" rx="2.18" ry="1.84" fill="#111"/>
<ellipse cx="403.82" cy="256.11" rx="2.18" ry="1.84" fill="#111"/>
<ellipse cx="399.53" cy="246.22" rx="2.18" ry="1.84" fill="#111"/>
<ellipse cx="400.27" cy="255.76" rx="2.18" ry="1.84" fill="#111"/>
<ellipse cx="396.81" cy="246.48" rx="2.18" ry="1.84" fill="#111"/>
<ellipse cx="393.74" cy="261.7" rx="2.18" ry="1.84" fill="#111"/>
<ellipse cx="394.2" cy="250.34" rx="2.18" ry="1.84" fill="#111"/>
<ellipse cx="398.76" cy="254.75" rx="2.18" ry="1.84" fill="#111"/>
<ellipse cx="405.81" cy="257.86" rx="2.18" ry="1.84" fill="#111"/>
<ellipse cx="404.23" cy="249.68" rx="2.18" ry="1.84" fill="#111"/>
<ellipse cx="406.04" cy="260.5" rx="2.18" ry="1.84" fill="#111"/>
<ellipse cx="390.73" cy="250.6" rx="2.18" ry="1.84" fill="#111"/>
<ellipse cx="402.46" cy="258.82" rx="2.18" ry="1.84" fill="#111"/>
<ellipse cx="399.1" cy="260.73" rx="2.18" ry="1.84" fill="#111"/>
<ellipse cx="404.92" cy="248.31" rx="2.18" ry="1.84" fill="#111"/>
<ellipse cx="387.55" cy="254.91" rx="2.18" ry="1.84" fill="#111"/>
<ellipse cx="400.24" cy="245.87" rx="2.18" ry="1.84" fill="#111"/>
<ellipse cx="380.91" cy="261.94" rx="2.18" ry="1.84" fill="#111"/>
<ellipse cx="397.62" cy="260.67" rx="2.18" ry="1.84" fill="#111"/>
<ellipse cx="391.23" cy="256.4" rx="2.18" ry="1.84" fill="#111"/>
<ellipse cx="385.38" cy="252.62" rx="2.18" ry="1.84" fill="#111"/>
<ellipse cx="404.61" cy="266.48" rx="2.18" ry="1.84" fill="#111"/>
<ellipse cx="406.93" cy="260.46" rx="2.18" ry="1.84" fill="#111"/>
<ellipse cx="405.48" cy="248.97" rx="2.18" ry="1.84" fill="#111"/>
<ellipse cx="393.08" cy="250.23" rx="2.18" ry="1.84" fill="#111"/>
<ellipse cx="406.96" cy="253.33" rx="2.18" ry="1.84" fill="#111"/>
<ellipse cx="389.51" cy="258.36" rx="2.18" ry="1.84" fill="#111"/>
<ellipse cx="393.2" cy="253.34" rx="2.18" ry="1.84" fill="#111"/>
<ellipse cx="398.11" cy="256.58" rx="2.18" ry="1.84" fill="#111"/>
<ellipse cx="402.47" cy="251.37" rx="2.18" ry="1.84" fill="#111"/>
<ellipse cx="385.48" cy="261.54" rx="2.18" ry="1.84" fill="#111"/>
<ellipse cx="403.9" cy="262.43" rx="2.18" ry="1.84" fill="#111"/>
<ellipse cx="387.98" cy="247" rx="2.18" ry="1.84" fill="#111"/>
<ellipse cx="390.68" cy="263.33" rx="2.18" ry="1.84" fill="#111"/>
<ellipse cx="390.99" cy="246.29" rx="2.18" ry="1.84" fill="#111"/>
<ellipse cx="403.33" cy="258.94" rx="2.18" ry="1.84" fill="#111"/>
<ellipse cx="410.68" cy="255.26" rx="2.18" ry="1.84" fill="#111"/>
<ellipse cx="406.71" cy="251.53" rx="2.18" ry="1.84" fill="#111"/>
<ellipse cx="389.23" cy="254.19" rx="2.18" ry="1.84" fill="#111"/>
<ellipse cx="386.74" cy="253.13" rx="2.18" ry="1.84" fill="#111"/>
<ellipse cx="390.96" cy="253.17" rx="2.18" ry="1.84" fill="#111"/>
<ellipse cx="392.04" cy="253.85" rx="2.18" ry="1.84" fill="#111"/>
<ellipse cx="384.82" cy="258.79" rx="2.18" ry="1.84" fill="#111"/>
<ellipse cx="406.49" cy="258.14" rx="2.18" ry="1.84" fill="#111"/>
<ellipse cx="407.91" cy="258.76" rx="2.18" ry="1.84" fill="#111"/>
<ellipse cx="384.16" cy="264.25" rx="2.18" ry="1.84" fill="#111"/>
<ellipse cx="409.51" cy="250.88" rx="2.18" ry="1.84" fill="#111"/>
<ellipse cx="397.39" cy="258.89" rx="2.18" ry="1.84" fill="#111"/>
<ellipse cx="397.49" cy="265.07" rx="2.18" ry="1.84" fill="#111"/>
<ellipse cx="380.85" cy="260.76" rx="2.18" ry="1.84" fill="#111"/>
<ellipse cx="382.98" cy="263.88" rx="2.18" ry="1.84" fill="#111"/>
<ellipse cx="401.16" cy="249.87" rx="2.18" ry="1.84" fill="#111"/>
<ellipse cx="385.74" cy="264.43" rx="2.18" ry="1.84" fill="#111"/>
<ellipse cx="396.58" cy="264.41" rx="2.18" ry="1.84" fill="#111"/>
<ellipse cx="392" cy="252.46" rx="2.18" ry="1.84" fill="#111"/>
<ellipse cx="395.57" cy="258.05" rx="2.18" ry="1.84" fill="#111"/>
<ellipse cx="403.75" cy="262.83" rx="2.18" ry="1.84" fill="#111"/>
<ellipse cx="410.74" cy="254.5" rx="2.18" ry="1.84" fill="#111"/>
<ellipse cx="407.54" cy="261.67" rx="2.18" ry="1.84" fill="#111"/>
<ellipse cx="396.66" cy="262.88" rx="2.18" ry="1.84" fill="#111"/>
<ellipse cx="406.68" cy="254.81" rx="2.18" ry="1.84" fill="#111"/>
<ellipse cx="392.94" cy="247.09" rx="2.18" ry="1.84" fill="#111"/>
<ellipse cx="391.32" cy="247.69" rx="2.18" ry="1.84" fill="#111"/>
<ellipse cx="385.16" cy="254.9" rx="2.18" ry="1.84" fill="#111"/>
<ellipse cx="381.93" cy="261.14" rx="2.18" ry="1.84" fill="#111"/>
<ellipse cx="405.73" cy="248.02" rx="2.18" ry="1.84" fill="#111"/>
<ellipse cx="398.83" cy="268.46" rx="2.18" ry="1.84" fill="#111"/>
<ellipse cx="384.44" cy="249.09" rx="2.18" ry="1.84" fill="#111"/>
<ellipse cx="386.27" cy="263.08" rx="2.18" ry="1.84" fill="#111"/>
<ellipse cx="399.21" cy="249.27" rx="2.18" ry="1.84" fill="#111"/>
<ellipse cx="384.46" cy="250.87" rx="2.18" ry="1.84" fill="#111"/>
<ellipse cx="384.01" cy="264.21" rx="2.18" ry="1.84" fill="#111"/>
<ellipse cx="389.02" cy="258.35" rx="2.18" ry="1.84" fill="#111"/>
<ellipse cx="407.22" cy="256.43" rx="2.18" ry="1.84" fill="#111"/>
<ellipse cx="410.71" cy="252.58" rx="2.18" ry="1.84" fill="#111"/>
<ellipse cx="395.17" cy="249.19" rx="2.18" ry="1.84" fill="#111"/>
<ellipse cx="406.65" cy="253.78" rx="2.18" ry="1.84" fill="#111"/>
<ellipse cx="396.79" cy="257.44" rx="2.18" ry="1.84" fill="#111"/>
<ellipse cx="401.47" cy="249.65" rx="2.18" ry="1.84" fill="#111"/>
<ellipse cx="391.18" cy="265.31" rx="2.18" ry="1.84" fill="#111"/>
<ellipse cx="403.48" cy="259.97" rx="2.18" ry="1.84" fill="#111"/>
<ellipse cx="389.38" cy="250.26" rx="2.18" ry="1.84" fill="#111"/>
<ellipse cx="409.09" cy="257.45" rx="2.18" ry="1.84" fill="#111"/>
<ellipse cx="387.39" cy="257.97" rx="2.18" ry="1.84" fill="#111"/>
<ellipse cx="383.22" cy="264.57" rx="2.18" ry="1.84" fill="#111"/>
<ellipse cx="395.08" cy="256.12" rx="2.18" ry="1.84" fill="#111"/>
<ellipse cx="408.66" cy="251.5" rx="2.18" ry="1.84" fill="#111"/>
<ellipse cx="406.22" cy="254.68" rx="2.18" ry="1.84" fill="#111"/>
<ellipse cx="407.55" cy="248.84" rx="2.18" ry="1.84" fill="#111"/>
<ellipse cx="397.36" cy="257.72" rx="2.18" ry="1.84" fill="#111"/>
<ellipse cx="389.01" cy="251.7" rx="2.18" ry="1.84" fill="#111"/>
<ellipse cx="394.62" cy="263.02" rx="2.18" ry="1.84" fill="#111"/>
<ellipse cx="390.75" cy="262.24" rx="2.18" ry="1.84" fill="#111"/>
<ellipse cx="381.61" cy="254.04" rx="2.18" ry="1.84" fill="#111"/>
<ellipse cx="407.67" cy="261.31" rx="2.18" ry="1.84" fill="#111"/>
<ellipse cx="403.36" cy="249.65" rx="2.18" ry="1.84" fill="#111"/>
<ellipse cx="398.11" cy="255.83" rx="2.18" ry="1.84" fill="#111"/>
<ellipse cx="406.58" cy="248.79" rx="2.18" ry="1.84" fill="#111"/>
<ellipse cx="399.98" cy="251.13" rx="2.18" ry="1.84" fill="#111"/>
<ellipse cx="391.34" cy="258.11" rx="2.18" ry="1.84" fill="#111"/>
<ellipse cx="388.54" cy="252.45" rx="2.18" ry="1.84" fill="#111"/>
<ellipse cx="391.92" cy="261.67" rx="2.18" ry="1.84" fill="#111"/>
<ellipse cx="387.03" cy="248.6" rx="2.18" ry="1.84" fill="#111"/>
<ellipse cx="404.13" cy="252.22" rx="2.18" ry="1.84" fill="#111"/>
<ellipse cx="403.86" cy="252.29" rx="2.18" ry="1.84" fill="#111"/>
<ellipse cx="402.2" cy="262.83" rx="2.18" ry="1.84" fill="#111"/>
<ellipse cx="384.28" cy="254.26" rx="2.18" ry="1.84" fill="#111"/>
<ellipse cx="407.93" cy="259.6" rx="2.18" ry="1.84" fill="#111"/>
<ellipse cx="410.94" cy="254.96" rx="2.18" ry="1.84" fill="#111"/>
<ellipse cx="396.22" cy="261.12" rx="2.18" ry="1.84" fill="#111"/>
<ellipse cx="387.98" cy="276.95" rx="2.18" ry="1.84" fill="#111"/>
<ellipse cx="386.25" cy="277.21" rx="2.18" ry="1.84" fill="#111"/>
<ellipse cx="387.46" cy="282.6" rx="2.18" ry="1.84" fill="#111"/>
<ellipse cx="386" cy="280.95" rx="2.18" ry="1.84" fill="#111"/>
<ellipse cx="391.45" cy="276.16" rx="2.18" ry="1.84" fill="#111"/>
<ellipse cx="387.52" cy="281.71" rx="2.18" ry="1.84" fill="#111"/>
<ellipse cx="390.82" cy="279.17" rx="2.18" ry="1.84" fill="#111"/>
<ellipse cx="390.02" cy="284.19" rx="2.18" ry="1.84" fill="#111"/>
<ellipse cx="390.13" cy="272.85" rx="2.18" ry="1.84" fill="#111"/>
<ellipse cx="380.88" cy="283.8" rx="2.18" ry="1.84" fill="#111"/>
<ellipse cx="392.17" cy="276.35" rx="2.18" ry="1.84" fill="#111"/>
<ellipse cx="383.39" cy="279.01" rx="2.18" ry="1.84" fill="#111"/>
<ellipse cx="391.97" cy="287.76" rx="2.18" ry="1.84" fill="#111"/>
<ellipse cx="393.15" cy="279.29" rx="2.18" ry="1.84" fill="#111"/>
<ellipse cx="384.95" cy="273.55" rx="2.18" ry="1.84" fill="#111"/>
<ellipse cx="384.68" cy="271.5" rx="2.18" ry="1.84" fill="#111"/>
<ellipse cx="384.62" cy="274.4" rx="2.18" ry="1.84" fill="#111"/>
<ellipse cx="380.15" cy="275.93" rx="2.18" ry="1.84" fill="#111"/>
<ellipse cx="383.43" cy="286.72" rx="2.18" ry="1.84" fill="#111"/>
<ellipse cx="383.41" cy="272.23" rx="2.18" ry="1.84" fill="#111"/>
<ellipse cx="391.27" cy="287.52" rx="2.18" ry="1.84" fill="#111"/>
<ellipse cx="383.36" cy="286.37" rx="2.18" ry="1.84" fill="#111"/>
<text class="s" x="388.75" y="254.93" textLength="19.8" lengthAdjust="spacingAndGlyphs" font-size="9.2" fill="#1a1a1a">3.93</text>
<text class="s" x="384.73" y="258.22" textLength="19.8" lengthAdjust="spacingAndGlyphs" font-size="9.2" fill="#1a1a1a">1.08</text>
<text class="s" x="388.96" y="261.09" textLength="19.8" lengthAdjust="spacingAndGlyphs" font-size="9.2" fill="#1a1a1a">6.53</text>
<text class="s" x="386.81" y="258.62" textLength="19.8" lengthAdjust="spacingAndGlyphs" font-size="9.2" fill="#1a1a1a">5.53</text>
<text class="s" x="386.29" y="252.38" textLength="19.8" lengthAdjust="spacingAndGlyphs" font-size="9.2" fill="#1a1a1a">2.93</text>
<text class="s" x="393.05" y="265.38" textLength="19.8" lengthAdjust="spacingAndGlyphs" font-size="9.2" fill="#1a1a1a">4.08</text>
<text class="s" x="389.69" y="251.64" textLength="19.8" lengthAdjust="spacingAndGlyphs" font-size="9.2" fill="#1a1a1a">2.28</text>
<text class="s" x="385.34" y="256.92" textLength="19.8" lengthAdjust="spacingAndGlyphs" font-size="9.2" fill="#1a1a1a">6.63</text>
<text class="s" x="390.85" y="257.44" textLength="19.8" lengthAdjust="spacingAndGlyphs" font-size="9.2" fill="#1a1a1a">2.38</text>
<text class="s" x="390.68" y="260.33" textLength="19.8" lengthAdjust="spacingAndGlyphs" font-size="9.2" fill="#1a1a1a">4.03</text>
<text class="s" x="391.35" y="263.66" textLength="19.8" lengthAdjust="spacingAndGlyphs" font-size="9.2" fill="#1a1a1a">5.63</text>
<text class="s" x="388.42" y="260.77" textLength="19.8" lengthAdjust="spacingAndGlyphs" font-size="9.2" fill="#1a1a1a">5.63</text>
<text class="s" x="388.45" y="250.93" textLength="19.8" lengthAdjust="spacingAndGlyphs" font-size="9.2" fill="#1a1a1a">3.83</text>
<text class="s" x="384.81" y="255.89" textLength="19.8" lengthAdjust="spacingAndGlyphs" font-size="9.2" fill="#1a1a1a">3.38</text>
<text class="s" x="384.99" y="258.5" textLength="19.8" lengthAdjust="spacingAndGlyphs" font-size="9.2" fill="#1a1a1a">1.03</text>
<text class="s" x="383.17" y="257.44" textLength="19.8" lengthAdjust="spacingAndGlyphs" font-size="9.2" fill="#1a1a1a">4.73</text>
<text class="s" x="392.94" y="259.59" textLength="19.8" lengthAdjust="spacingAndGlyphs" font-size="9.2" fill="#1a1a1a">4.58</text>
<text class="s" x="393.87" y="259.25" textLength="19.8" lengthAdjust="spacingAndGlyphs" font-size="9.2" fill="#1a1a1a">5.98</text>
<text class="s" x="389.25" y="252.67" textLength="19.8" lengthAdjust="spacingAndGlyphs" font-size="9.2" fill="#1a1a1a">3.78</text>
<text class="s" x="387" y="254.5" textLength="19.8" lengthAdjust="spacingAndGlyphs" font-size="9.2" fill="#1a1a1a">6.68</text>
<text class="s" x="389.81" y="252.19" textLength="19.8" lengthAdjust="spacingAndGlyphs" font-size="9.2" fill="#1a1a1a">1.93</text>
<text class="s" x="393.45" y="264.1" textLength="19.8" lengthAdjust="spacingAndGlyphs" font-size="9.2" fill="#1a1a1a">5.58</text>
<text class="s" x="393.23" y="262.76" textLength="19.8" lengthAdjust="spacingAndGlyphs" font-size="9.2" fill="#1a1a1a">4.08</text>
<text class="s" x="391.9" y="250.28" textLength="19.8" lengthAdjust="spacingAndGlyphs" font-size="9.2" fill="#1a1a1a">1.48</text>
<text class="s" x="386.78" y="253.3" textLength="19.8" lengthAdjust="spacingAndGlyphs" font-size="9.2" fill="#1a1a1a">6.68</text>
<text class="s" x="385.08" y="252.95" textLength="19.8" lengthAdjust="spacingAndGlyphs" font-size="9.2" fill="#1a1a1a">3.93</text>
<text class="s" x="394.16" y="262.66" textLength="19.8" lengthAdjust="spacingAndGlyphs" font-size="9.2" fill="#1a1a1a">2.18</text>
<text class="s" x="390.07" y="255.35" textLength="19.8" lengthAdjust="spacingAndGlyphs" font-size="9.2" fill="#1a1a1a">2.88</text>
<text class="s" x="392.55" y="261.01" textLength="19.8" lengthAdjust="spacingAndGlyphs" font-size="9.2" fill="#1a1a1a">1.73</text>
<text class="s" x="393.32" y="251.27" textLength="19.8" lengthAdjust="spacingAndGlyphs" font-size="9.2" fill="#1a1a1a">5.38</text>
<text class="s" x="391.79" y="253.85" textLength="19.8" lengthAdjust="spacingAndGlyphs" font-size="9.2" fill="#1a1a1a">6.63</text>
<text class="s" x="386.67" y="252.74" textLength="19.8" lengthAdjust="spacingAndGlyphs" font-size="9.2" fill="#1a1a1a">1.58</text>
<text class="s" x="388.99" y="257.9" textLength="19.8" lengthAdjust="spacingAndGlyphs" font-size="9.2" fill="#1a1a1a">5.23</text>
<text class="s" x="385.88" y="261.07" textLength="19.8" lengthAdjust="spacingAndGlyphs" font-size="9.2" fill="#1a1a1a">6.63</text>
<text class="s" x="386.52" y="254.89" textLength="19.8" lengthAdjust="spacingAndGlyphs" font-size="9.2" fill="#1a1a1a">1.13</text>
<text class="s" x="389.45" y="258.28" textLength="19.8" lengthAdjust="spacingAndGlyphs" font-size="9.2" fill="#1a1a1a">1.88</text>
<text class="s" x="390.72" y="260.94" textLength="19.8" lengthAdjust="spacingAndGlyphs" font-size="9.2" fill="#1a1a1a">1.43</text>
<text class="s" x="393.87" y="253.67" textLength="19.8" lengthAdjust="spacingAndGlyphs" font-size="9.2" fill="#1a1a1a">6.43</text>
<text class="s" x="388.63" y="253.31" textLength="19.8" lengthAdjust="spacingAndGlyphs" font-size="9.2" fill="#1a1a1a">3.23</text>
<text class="s" x="394.4" y="253.73" textLength="19.8" lengthAdjust="spacingAndGlyphs" font-size="9.2" fill="#1a1a1a">4.78</text>
<text class="s" x="391.34" y="251.84" textLength="19.8" lengthAdjust="spacingAndGlyphs" font-size="9.2" fill="#1a1a1a">2.53</text>
<text class="s" x="387.86" y="253.81" textLength="19.8" lengthAdjust="spacingAndGlyphs" font-size="9.2" fill="#1a1a1a">1.43</text>
<text class="s" x="388.19" y="254.47" textLength="19.8" lengthAdjust="spacingAndGlyphs" font-size="9.2" fill="#1a1a1a">4.58</text>
<text class="s" x="392.31" y="260.66" textLength="19.8" lengthAdjust="spacingAndGlyphs" font-size="9.2" fill="#1a1a1a">3.73</text>
<text class="s" x="387.74" y="261.73" textLength="19.8" lengthAdjust="spacingAndGlyphs" font-size="9.2" fill="#1a1a1a">4.33</text>
<text class="s" x="391.85" y="252.51" textLength="19.8" lengthAdjust="spacingAndGlyphs" font-size="9.2" fill="#1a1a1a">3.03</text>
<text class="s" x="385.21" y="259.54" textLength="19.8" lengthAdjust="spacingAndGlyphs" font-size="9.2" fill="#1a1a1a">3.58</text>
<text class="s" x="389.68" y="250.22" textLength="19.8" lengthAdjust="spacingAndGlyphs" font-size="9.2" fill="#1a1a1a">1.23</text>
<text class="s" x="393.81" y="255.96" textLength="19.8" lengthAdjust="spacingAndGlyphs" font-size="9.2" fill="#1a1a1a">5.33</text>
<text class="s" x="389.78" y="259.14" textLength="19.8" lengthAdjust="spacingAndGlyphs" font-size="9.2" fill="#1a1a1a">1.18</text>
<text class="s" x="393.53" y="251.79" textLength="19.8" lengthAdjust="spacingAndGlyphs" font-size="9.2" fill="#1a1a1a">6.58</text>
<text class="s" x="391.04" y="250.73" textLength="19.8" lengthAdjust="spacingAndGlyphs" font-size="9.2" fill="#1a1a1a">4.28</text>
<text class="s" x="389.12" y="256.39" textLength="19.8" lengthAdjust="spacingAndGlyphs" font-size="9.2" fill="#1a1a1a">6.78</text>
<text class="s" x="388.46" y="261.85" textLength="19.8" lengthAdjust="spacingAndGlyphs" font-size="9.2" fill="#1a1a1a">1.23</text>
<text class="s" x="385.15" y="258.36" textLength="19.8" lengthAdjust="spacingAndGlyphs" font-size="9.2" fill="#1a1a1a">3.13</text>
<text class="s" x="387.28" y="261.48" textLength="19.8" lengthAdjust="spacingAndGlyphs" font-size="9.2" fill="#1a1a1a">3.23</text>
<text class="s" x="390.04" y="262.03" textLength="19.8" lengthAdjust="spacingAndGlyphs" font-size="9.2" fill="#1a1a1a">5.48</text>
<text class="s" x="389.46" y="252.5" textLength="19.8" lengthAdjust="spacingAndGlyphs" font-size="9.2" fill="#1a1a1a">3.83</text>
<text class="s" x="386.23" y="258.74" textLength="19.8" lengthAdjust="spacingAndGlyphs" font-size="9.2" fill="#1a1a1a">5.83</text>
<text class="s" x="390.57" y="260.68" textLength="19.8" lengthAdjust="spacingAndGlyphs" font-size="9.2" fill="#1a1a1a">3.23</text>
<text class="s" x="388.31" y="261.81" textLength="19.8" lengthAdjust="spacingAndGlyphs" font-size="9.2" fill="#1a1a1a">3.23</text>
<text class="s" x="393.32" y="255.95" textLength="19.8" lengthAdjust="spacingAndGlyphs" font-size="9.2" fill="#1a1a1a">4.18</text>
<text class="s" x="391.69" y="255.57" textLength="19.8" lengthAdjust="spacingAndGlyphs" font-size="9.2" fill="#1a1a1a">5.13</text>
<text class="s" x="387.52" y="262.17" textLength="19.8" lengthAdjust="spacingAndGlyphs" font-size="9.2" fill="#1a1a1a">1.98</text>
<text class="s" x="385.91" y="251.64" textLength="19.8" lengthAdjust="spacingAndGlyphs" font-size="9.2" fill="#1a1a1a">5.48</text>
<text class="s" x="388.58" y="251.86" textLength="19.8" lengthAdjust="spacingAndGlyphs" font-size="9.2" fill="#1a1a1a">5.13</text>
<text class="s" x="395.2" y="285.2" textLength="19.8" lengthAdjust="spacingAndGlyphs" font-size="9.2" fill="#1a1a1a">4.88</text>
<text class="s" x="391.2" y="282.4" textLength="19.8" lengthAdjust="spacingAndGlyphs" font-size="9.2" fill="#1a1a1a">6.63</text>
<text class="s" x="394.5" y="279.6" textLength="19.8" lengthAdjust="spacingAndGlyphs" font-size="9.2" fill="#1a1a1a">2.38</text>
<text class="s" x="392.28" y="274.95" textLength="19.8" lengthAdjust="spacingAndGlyphs" font-size="9.2" fill="#1a1a1a">3.33</text>
<text class="s" x="390.55" y="275.21" textLength="19.8" lengthAdjust="spacingAndGlyphs" font-size="9.2" fill="#1a1a1a">2.43</text>
<text class="s" x="391.76" y="280.6" textLength="19.8" lengthAdjust="spacingAndGlyphs" font-size="9.2" fill="#1a1a1a">2.23</text>
<text class="s" x="390.3" y="278.95" textLength="19.8" lengthAdjust="spacingAndGlyphs" font-size="9.2" fill="#1a1a1a">5.78</text>
<text class="s" x="395.75" y="274.16" textLength="19.8" lengthAdjust="spacingAndGlyphs" font-size="9.2" fill="#1a1a1a">1.73</text>
<text class="s" x="391.82" y="279.71" textLength="19.8" lengthAdjust="spacingAndGlyphs" font-size="9.2" fill="#1a1a1a">2.18</text>
<text class="s" x="395.12" y="277.17" textLength="19.8" lengthAdjust="spacingAndGlyphs" font-size="9.2" fill="#1a1a1a">3.73</text>
<text class="s" x="394.32" y="282.19" textLength="19.8" lengthAdjust="spacingAndGlyphs" font-size="9.2" fill="#1a1a1a">5.43</text>
<text class="s" x="394.43" y="270.85" textLength="19.8" lengthAdjust="spacingAndGlyphs" font-size="9.2" fill="#1a1a1a">5.23</text>
<text class="s" x="385.18" y="281.8" textLength="19.8" lengthAdjust="spacingAndGlyphs" font-size="9.2" fill="#1a1a1a">5.63</text>
<text class="s" x="396.47" y="274.35" textLength="19.8" lengthAdjust="spacingAndGlyphs" font-size="9.2" fill="#1a1a1a">6.78</text>
<text class="s" x="387.69" y="277.01" textLength="19.8" lengthAdjust="spacingAndGlyphs" font-size="9.2" fill="#1a1a1a">6.38</text>
<text class="s" x="396.27" y="285.76" textLength="19.8" lengthAdjust="spacingAndGlyphs" font-size="9.2" fill="#1a1a1a">4.83</text>
<text class="s" x="397.45" y="277.29" textLength="19.8" lengthAdjust="spacingAndGlyphs" font-size="9.2" fill="#1a1a1a">5.98</text>
<text class="s" x="389.25" y="271.55" textLength="19.8" lengthAdjust="spacingAndGlyphs" font-size="9.2" fill="#1a1a1a">3.03</text>
<text class="s" x="388.98" y="269.5" textLength="19.8" lengthAdjust="spacingAndGlyphs" font-size="9.2" fill="#1a1a1a">5.08</text>
<text class="s" x="388.92" y="272.4" textLength="19.8" lengthAdjust="spacingAndGlyphs" font-size="9.2" fill="#1a1a1a">2.53</text>
<text class="s" x="384.45" y="273.93" textLength="19.8" lengthAdjust="spacingAndGlyphs" font-size="9.2" fill="#1a1a1a">5.08</text>
<text class="s" x="387.73" y="284.72" textLength="19.8" lengthAdjust="spacingAndGlyphs" font-size="9.2" fill="#1a1a1a">4.88</text>
<text class="s" x="387.71" y="270.23" textLength="19.8" lengthAdjust="spacingAndGlyphs" font-size="9.2" fill="#1a1a1a">6.43</text>
<text class="s" x="395.57" y="285.52" textLength="19.8" lengthAdjust="spacingAndGlyphs" font-size="9.2" fill="#1a1a1a">1.13</text>
<text class="s" x="387.66" y="284.37" textLength="19.8" lengthAdjust="spacingAndGlyphs" font-size="9.2" fill="#1a1a1a">5.83</text>
</g>
</svg>
</body></html>
